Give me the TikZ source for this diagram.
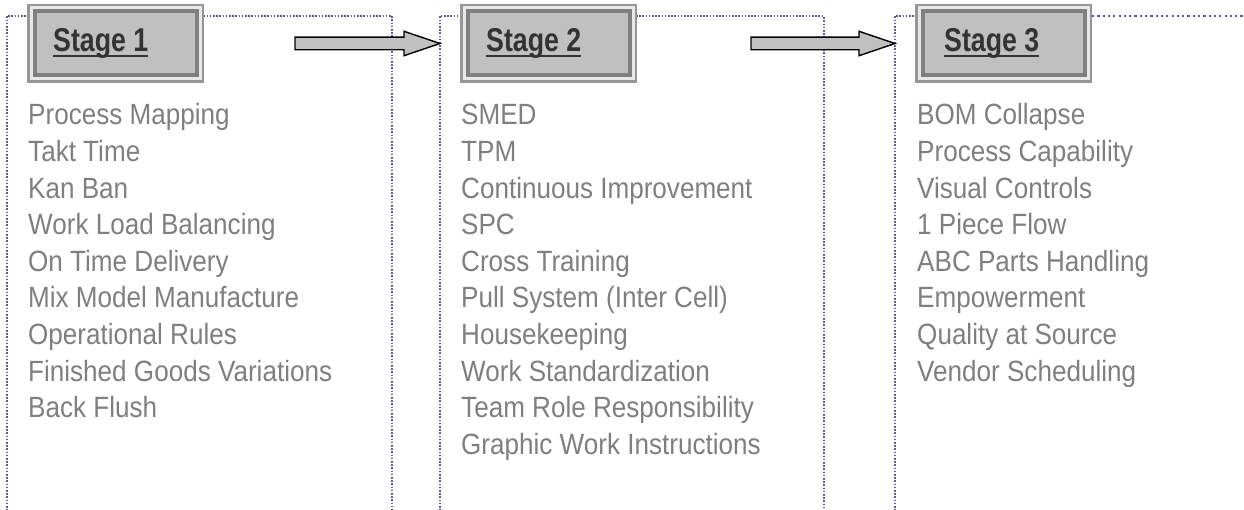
\documentclass[tikz,border=0pt]{standalone}
\usepackage{fontspec}
\setmainfont{Liberation Sans}
\newfontfamily\itemfont[FakeStretch=0.89]{Liberation Sans}
\newfontfamily\stagefont[FakeStretch=0.81]{Liberation Sans Bold}
\usetikzlibrary{calc}

\definecolor{framedots}{RGB}{92,92,152}
\definecolor{itemgray}{RGB}{127,127,127}
\definecolor{stagefill}{RGB}{192,192,192}
\definecolor{stageline}{RGB}{128,128,128}
\definecolor{stageouter}{RGB}{150,150,150}
\definecolor{stagegap}{RGB}{232,232,232}
\definecolor{stagetextcol}{RGB}{51,51,51}

\tikzset{
  frameline/.style={draw=framedots, line width=2pt, dash pattern=on 1.6pt off 1.6pt},
  frameloose/.style={draw=framedots, line width=2pt, dash pattern=on 2.2pt off 3.1pt},
  stageframe/.style={rectangle, draw=stageouter, fill=stagegap, line width=2.5pt,
    minimum width=174.5pt, minimum height=76.5pt, inner sep=0pt, outer sep=0pt},
  stagecore/.style={rectangle, draw=stageline, fill=stagefill, line width=4pt,
    minimum width=162pt, minimum height=64pt, inner sep=0pt, outer sep=0pt},
  stagelabel/.style={anchor=base west, inner sep=0pt, text=stagetextcol,
    font=\stagefont\fontsize{33}{38}\selectfont},
  listitem/.style={anchor=base west, inner sep=0pt, text=itemgray,
    font=\itemfont\fontsize{29.3}{35}\selectfont},
  blockarrow/.style={draw=black, fill=stagefill, line width=1.4pt, line join=miter},
}

% block arrow from a start coordinate to a tip coordinate
\newcommand\fatarrow[2]{%
  \draw[blockarrow] ($(#1)+(0,-6.3)$) -- ($(#2)+(-36,-6.3)$) -- ($(#2)+(-36,-12.2)$)
    -- (#2) -- ($(#2)+(-36,12.2)$) -- ($(#2)+(-36,6.3)$) -- ($(#1)+(0,6.3)$) -- cycle;}

\begin{document}
\begin{tikzpicture}[x=1pt, y=-1pt]
\useasboundingbox (0,0) rectangle (1244,510);
\clip (0,0) rectangle (1244,510);

% dotted stage frames, open at the bottom
\draw[frameline] (7,530) -- (7,16) -- (392,16) -- (392,530);
\draw[frameline] (439.5,530) -- (439.5,16) -- (823.5,16) -- (823.5,530);
\draw[frameline] (895,530) -- (895,16) -- (1092,16);
\draw[frameloose] (1092,16) -- (1250,16);

% stage header boxes
\foreach \n/\cx/\tx in {1/115.5/53, 2/548.5/486, 3/1003.5/944} {
  \node[stageframe] (st\n) at (\cx,43.5) {};
  \node[stagecore] (st\n in) at (st\n.center) {};
  \node[stagelabel] (st\n txt) at (\tx,52) {Stage \n};
  \draw[stagetextcol, line width=2pt]
    ([yshift=-4pt]st\n txt.base west) -- ([yshift=-4pt]st\n txt.base east);
}

% arrows between stages
\coordinate (arA) at (295,43.5);
\coordinate (arAtip) at (440,43.5);
\coordinate (arB) at (751,43.5);
\coordinate (arBtip) at (895,43.5);
\fatarrow{arA}{arAtip}
\fatarrow{arB}{arBtip}

% stage 1 topics
\foreach \t [count=\i] in {Process Mapping, Takt Time, Kan Ban, Work Load Balancing,
    On Time Delivery, Mix Model Manufacture, Operational Rules,
    Finished Goods Variations, Back Flush}
  \node[listitem] (a\i) at (28,{125+(\i-1)*36.6}) {\t};

% stage 2 topics
\foreach \t [count=\i] in {SMED, TPM, Continuous Improvement, SPC, Cross Training,
    {Pull System (Inter Cell)}, Housekeeping, Work Standardization,
    Team Role Responsibility, Graphic Work Instructions}
  \node[listitem] (b\i) at (461,{125+(\i-1)*36.6}) {\t};

% stage 3 topics
\foreach \t [count=\i] in {BOM Collapse, Process Capability, Visual Controls,
    1 Piece Flow, ABC Parts Handling, Empowerment, Quality at Source,
    Vendor Scheduling}
  \node[listitem] (c\i) at (917,{125+(\i-1)*36.6}) {\t};
\end{tikzpicture}
\end{document}
